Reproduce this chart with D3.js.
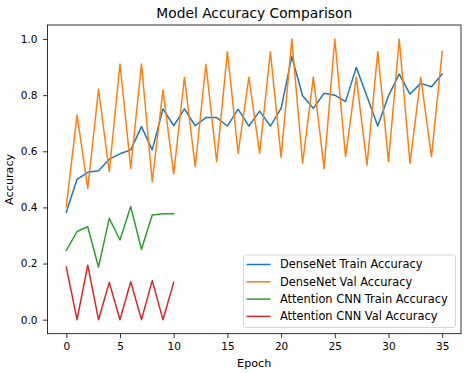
<!DOCTYPE html>
<html>
<head>
<meta charset="utf-8">
<script src="https://cdn.jsdelivr.net/npm/d3@7"></script>
<style>
  body { margin: 0; background: #fff; }
  text { font-family: "DejaVu Sans", sans-serif; fill: #000; }
</style>
</head>
<body>
<div id="chart"></div>
<script>
var seriesNames = ['DenseNet Train Accuracy', 'DenseNet Val Accuracy',
                   'Attention CNN Train Accuracy', 'Attention CNN Val Accuracy'];
var colors = ['#1f77b4', '#ff7f0e', '#2ca02c', '#d62728'];

var densenetTrain = [0.383, 0.50, 0.525, 0.531, 0.572, 0.591, 0.605, 0.688, 0.605, 0.751,
                     0.691, 0.751, 0.691, 0.72, 0.72, 0.69, 0.75, 0.69, 0.743, 0.69,
                     0.753, 0.937, 0.798, 0.753, 0.807, 0.80, 0.777, 0.899, 0.795, 0.69,
                     0.798, 0.875, 0.804, 0.842, 0.83, 0.875];
var densenetVal = [0.403, 0.729, 0.468, 0.821, 0.527, 0.911, 0.539, 0.911, 0.492, 0.818,
                   0.519, 0.864, 0.545, 0.91, 0.563, 0.955, 0.593, 0.864, 0.593, 0.955,
                   0.579, 1.0, 0.557, 0.864, 0.539, 1.0, 0.581, 0.864, 0.551, 0.955,
                   0.563, 1.0, 0.557, 0.864, 0.581, 0.955];
var attnTrain = [0.247, 0.314, 0.331, 0.187, 0.361, 0.284, 0.403, 0.251, 0.373, 0.377, 0.377];
var attnVal = [0.187, 0.0, 0.194, 0.0, 0.133, 0.0, 0.135, 0.0, 0.139, 0.0, 0.133];

var xTicks = [0, 5, 10, 15, 20, 25, 30, 35];
var yTicks = [0.0, 0.2, 0.4, 0.6, 0.8, 1.0];

var W = 468, H = 373;
var plotLeft = 47.5, plotRight = 461, plotTop = 25, plotBottom = 333.7;

var svg = d3.select('#chart').append('svg')
    .attr('width', W).attr('height', H);

var x = d3.scaleLinear().domain([-1.75, 36.75]).range([plotLeft, plotRight]);
var y = d3.scaleLinear().domain([-0.05, 1.05]).range([plotBottom, plotTop]);

var xAxis = d3.axisBottom(x).tickValues(xTicks).tickSize(4.5).tickPadding(4.5)
    .tickFormat(d3.format('d'));
var yAxis = d3.axisLeft(y).tickValues(yTicks).tickSize(4.5).tickPadding(5.5)
    .tickFormat(d3.format('.1f'));

var gx = svg.append('g')
    .attr('transform', 'translate(0,' + plotBottom + ')')
    .call(xAxis);
var gy = svg.append('g')
    .attr('transform', 'translate(' + plotLeft + ',0)')
    .call(yAxis);
[gx, gy].forEach(function(g) {
    g.select('.domain').remove();
    g.selectAll('.tick line').attr('stroke', '#000').attr('stroke-width', 0.8);
    g.selectAll('.tick text').style('font-size', '10.5px')
        .style('font-family', '"DejaVu Sans", sans-serif').attr('fill', '#111');
});

var line = d3.line()
    .x(function(d, i) { return x(i); })
    .y(function(d) { return y(d); });

var plot = svg.append('g');
[densenetTrain, densenetVal, attnTrain, attnVal].forEach(function(vals, k) {
    plot.append('path')
        .attr('d', line(vals))
        .attr('fill', 'none')
        .attr('stroke', colors[k])
        .attr('stroke-width', 1.5)
        .attr('stroke-linejoin', 'round')
        .attr('stroke-linecap', 'square');
});

// frame
svg.append('rect')
    .attr('x', plotLeft).attr('y', plotTop)
    .attr('width', plotRight - plotLeft).attr('height', plotBottom - plotTop)
    .attr('fill', 'none').attr('stroke', '#000').attr('stroke-width', 0.8);

svg.append('text')
    .attr('x', (plotLeft + plotRight) / 2).attr('y', 18.3)
    .attr('text-anchor', 'middle')
    .style('font-size', '13.8px')
    .text('Model Accuracy Comparison');

svg.append('text')
    .attr('x', (plotLeft + plotRight) / 2).attr('y', 366.5)
    .attr('text-anchor', 'middle')
    .style('font-size', '11.2px')
    .text('Epoch');

svg.append('text')
    .attr('transform', 'translate(12.5,' + ((plotTop + plotBottom) / 2) + ') rotate(-90)')
    .attr('text-anchor', 'middle')
    .style('font-size', '11.2px')
    .text('Accuracy');

// legend
var legend = svg.append('g').attr('transform', 'translate(243.5,255)');
legend.append('rect')
    .attr('width', 212).attr('height', 72.5)
    .attr('rx', 2)
    .attr('fill', '#fff').attr('fill-opacity', 0.8)
    .attr('stroke', '#ccc').attr('stroke-width', 0.8);
seriesNames.forEach(function(name, k) {
    var cy = 9.5 + k * 17.3;
    legend.append('line')
        .attr('x1', 3).attr('x2', 27)
        .attr('y1', cy).attr('y2', cy)
        .attr('stroke', colors[k]).attr('stroke-width', 1.5);
    legend.append('text')
        .attr('x', 36.5).attr('y', cy)
        .attr('dy', '0.35em')
        .style('font-size', '11.4px')
        .text(name);
});
</script>
</body>
</html>
